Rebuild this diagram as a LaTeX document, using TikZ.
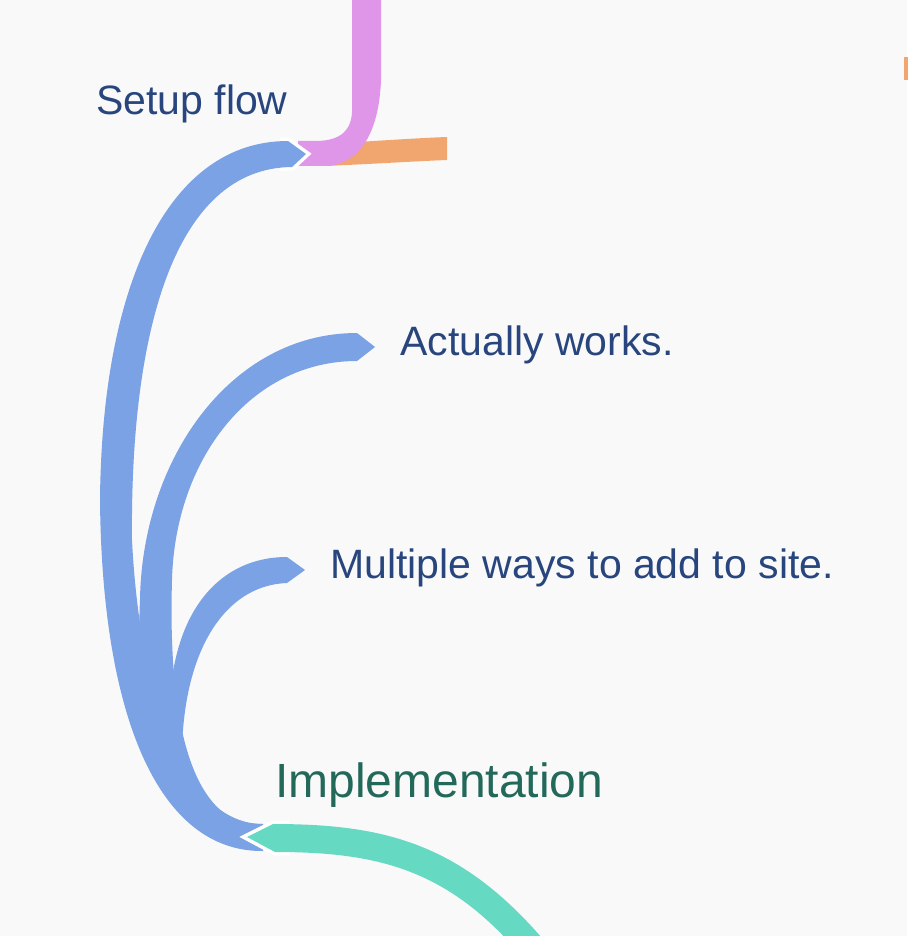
\documentclass[tikz,border=0pt]{standalone}
\usepackage{fontspec}
\setmainfont{Liberation Sans}
\definecolor{bg}{HTML}{F9F9F9}
\definecolor{brblue}{HTML}{7AA2E4}
\definecolor{brpink}{HTML}{E096E8}
\definecolor{brorange}{HTML}{F0A66E}
\definecolor{brteal}{HTML}{66D9C3}
\definecolor{txtblue}{HTML}{28467D}
\definecolor{txtteal}{HTML}{23695A}
\begin{document}
\begin{tikzpicture}[x=1pt,y=-1pt,
  lbl/.style={anchor=base west,inner sep=0pt,text=txtblue,font=\fontsize{41}{49}\selectfont},
  mainlbl/.style={anchor=base west,inner sep=0pt,text=txtteal,font=\fontsize{48}{56}\selectfont},
  halo/.style={draw=white,line width=7pt,line join=miter,miter limit=20},
]
\useasboundingbox (0,0) rectangle (907,936);
\fill[bg] (0,0) rectangle (907,936);

% named points
\coordinate (jtop) at (263,824);
\coordinate (jbot) at (263,851);
\coordinate (tipA) at (306,154);
\coordinate (tipB) at (375,347);
\coordinate (tipC) at (305,570);
\coordinate (tipT) at (247,837);

% labels
\node[lbl] (setup) at (96,115) {Setup flow};
\node[lbl] (works) at (400,355) {Actually works.};
\node[lbl] (multi) at (330,578) {Multiple ways to add to site.};
\node[mainlbl] (impl) at (275,797) {Implementation};

% orange branches
\fill[brorange] (904,57) rectangle (915,80);
\fill[brorange] (326,144) .. controls (390,140) and (420,138) .. (447,137)
  -- (447,160) .. controls (420,161) and (390,163) .. (326,166) -- cycle;

% pink branch
\fill[brpink] (352,-10) -- (352,112) .. controls (351,134) and (336,141) .. (315,141)
  -- (298,141) -- (298,166) -- (323,166)
  .. controls (358,166) and (379,135) .. (381,80) -- (381,-10) -- cycle;

% blue branches
\def\branchA{(jbot) .. controls (160,852) and (102,720) .. (100,500)
  .. controls (102,280) and (170,141) .. (288,141) -- (tipA) -- (292,167)
  .. controls (175,168) and (130,330) .. (132,540)
  .. controls (140,700) and (185,824) .. (jtop) -- cycle}
\def\branchB{(263,848) .. controls (160,845) and (135,700) .. (140,600)
  .. controls (142,460) and (230,333) .. (357,333) -- (tipB) -- (357,361)
  .. controls (250,361) and (175,460) .. (172,580)
  .. controls (168,720) and (190,826) .. (263,826) -- cycle}
\def\branchC{(263,846) .. controls (180,830) and (165,760) .. (170,700)
  .. controls (175,610) and (220,557) .. (287,557) -- (tipC) -- (287,583)
  .. controls (230,585) and (190,640) .. (183,730)
  .. controls (176,790) and (210,824) .. (jtop) -- cycle}

% white border where the blue tip meets the pink branch
\begin{scope}
  \clip (280,120) rectangle (330,190);
  \draw[halo] \branchA;
\end{scope}
\fill[brblue] \branchA;
\fill[brblue] \branchB;
\fill[brblue] \branchC;

% teal branch to Implementation
\def\branchT{(tipT) -- (273,824) .. controls (390,824) and (470,845) .. (560,960)
  -- (525,960) .. controls (450,870) and (380,852) .. (275,852) -- cycle}
\begin{scope}
  \clip (230,810) rectangle (290,870);
  \draw[halo] \branchT;
\end{scope}
\fill[brteal] \branchT;
\end{tikzpicture}
\end{document}
